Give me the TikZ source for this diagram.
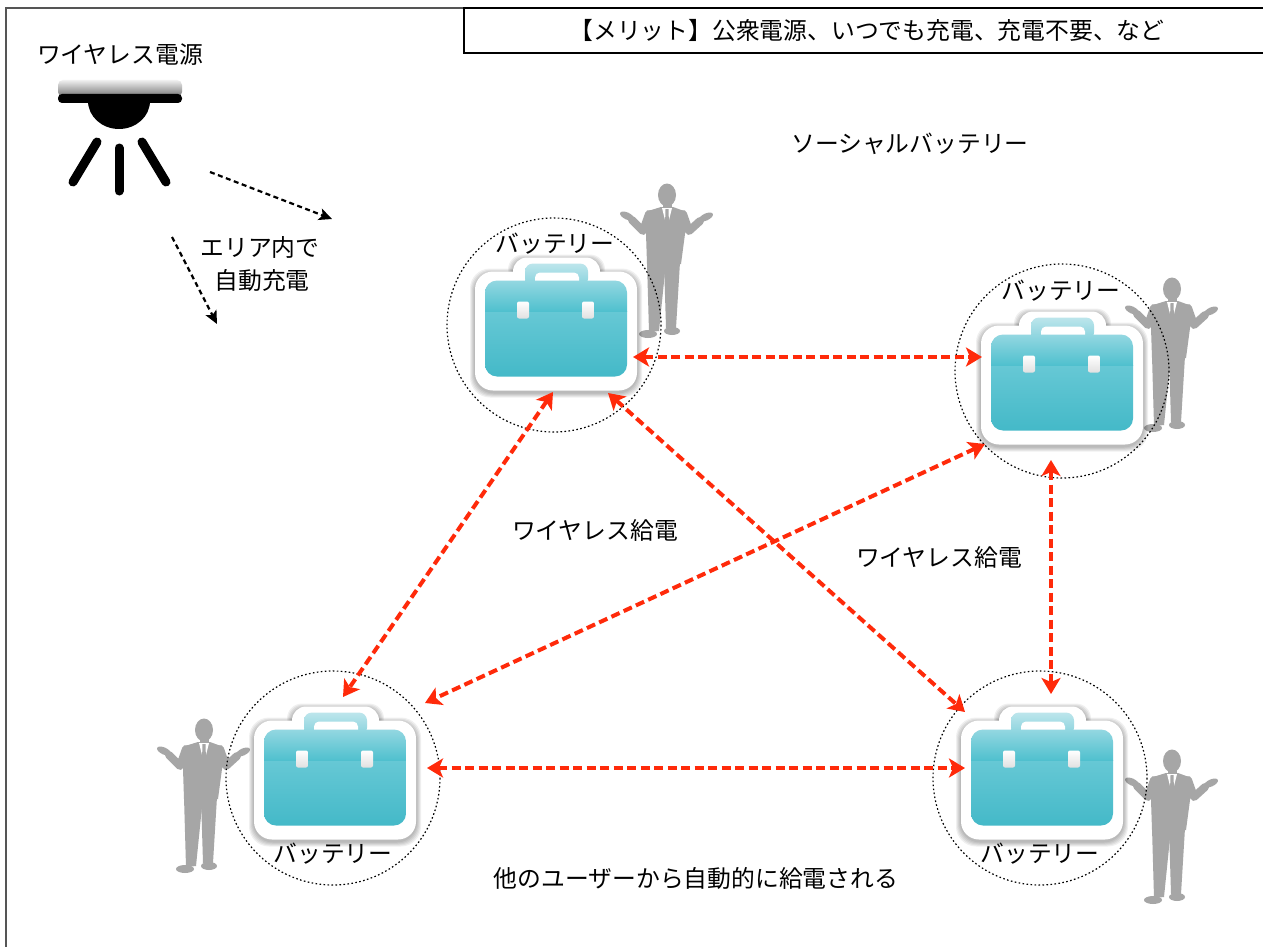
\documentclass[tikz,border=0pt]{standalone}
\usepackage{fontspec}
\setmainfont{Noto Sans CJK JP}
\usetikzlibrary{arrows.meta,calc}

\definecolor{framegray}{HTML}{555555}
\definecolor{mangray}{HTML}{A6A6A6}
\definecolor{linkred}{HTML}{FF2A0A}
\definecolor{lidtop}{HTML}{93D7E1}
\definecolor{lidbot}{HTML}{4FC0CE}
\definecolor{bodytop}{HTML}{66C8D5}
\definecolor{bodybot}{HTML}{44B9C8}
\definecolor{handlecol}{HTML}{86D1DC}

\tikzset{
  txt/.style={font=\fontsize{23.8}{30}\selectfont, inner sep=0pt, anchor=base},
  halo/.style={draw=black, line width=1.2pt, dash pattern=on 1.6pt off 2.4pt},
  link/.style={draw=linkred, line width=4pt, dash pattern=on 9pt off 4.5pt,
    {Stealth[length=16pt,width=19pt,inset=4pt]}-{Stealth[length=16pt,width=19pt,inset=4pt]}},
  beam/.style={draw=black, line width=2.2pt, dash pattern=on 5pt off 3.5pt,
    -{Stealth[length=13pt,width=12pt,inset=3pt]}},
  slot/.style={inner sep=0pt, minimum width=165pt, minimum height=135pt},
  % standing man in a suit, origin at the top of the head
  man/.pic={
    \fill[mangray] (0,11) ellipse [x radius=9, y radius=11.5];
    \fill[mangray] (-4.5,18) rectangle (4.5,27);
    \fill[mangray] (-6,23) -- (-19,27) .. controls (-22,30) and (-22,40) .. (-21,50)
      -- (-20,80) -- (-4,82) -- (14,80) -- (18,50)
      .. controls (19,40) and (20,30) .. (17,27) -- (6,23) -- cycle;
    \draw[mangray, line width=8pt, line join=round, line cap=round] (-18,30) -- (-24,47) -- (-35,36);
    \draw[mangray, line width=8pt, line join=round, line cap=round] (16,30) -- (22,47) -- (33,37);
    \fill[mangray, rotate around={-25:(-40,32)}] (-40,32) ellipse [x radius=7.5, y radius=3.5];
    \fill[mangray, rotate around={25:(39,33)}] (39,33) ellipse [x radius=7.5, y radius=3.5];
    \fill[mangray] (-20,78) -- (-1,78) -- (-8,147) -- (-18,148) -- cycle;
    \fill[mangray] (-3,78) -- (13,78) -- (9,144) -- (-1,144) -- cycle;
    \fill[mangray] (-19,150) ellipse [x radius=9, y radius=4];
    \fill[mangray] (5,147) ellipse [x radius=8, y radius=4];
    \fill[white] (-5,24) -- (5,24) -- (0,44) -- cycle;
    \fill[mangray] (-1.5,25) -- (1.5,25) -- (2.2,47) -- (0,51) -- (-2.2,47) -- cycle;
  },
  % teal tool case, origin at the centre of the case body
  toolbox/.pic={
    \foreach \e in {5,4,3,2,1} {
      \fill[black, opacity=0.06, rounded corners=20pt] (-81-\e,-57-\e+2) rectangle (81+\e,62+\e+2);
      \fill[black, opacity=0.06, rounded corners=15pt] (-43-\e,-71-\e+2) rectangle (44+\e,-40);
    }
    \fill[white, rounded corners=18pt] (-81,-57) rectangle (81,62);
    \fill[white, rounded corners=14pt] (-43,-71) rectangle (44,-40);
    \shade[top color=handlecol!55, bottom color=handlecol, rounded corners=8pt] (-31,-65) rectangle (32,-42);
    \fill[white, rounded corners=5pt] (-21,-56) rectangle (23,-42);
    \begin{scope}
      \clip[rounded corners=12pt] (-71,-48) rectangle (71,48);
      \shade[top color=bodytop, bottom color=bodybot] (-71,-17) rectangle (71,48);
      \shade[top color=lidtop, bottom color=lidbot] (-71,-48) rectangle (71,-17);
    \end{scope}
    \shade[top color=white, bottom color=black!12, rounded corners=2pt] (-39,-27) rectangle (-27,-10);
    \shade[top color=white, bottom color=black!12, rounded corners=2pt] (26,-27) rectangle (38,-10);
  },
}

\begin{document}
\begin{tikzpicture}[x=1pt,y=-1pt]
\useasboundingbox (0,0) rectangle (1263,947);
\fill[white] (0,0) rectangle (1263,947);

% outer frame
\draw[framegray, line width=1.5pt] (6,947) -- (6,8) -- (1263,8);

% headline box
\node[draw=black, line width=1.2pt, minimum width=806pt, minimum height=45pt, inner sep=0pt,
      font=\fontsize{23.8}{30}\selectfont] (merit) at (867,30.5)
  {【メリット】公衆電源、いつでも充電、充電不要、など};

% wireless power source lamp
\node[txt] (srclabel) at (120,64) {ワイヤレス電源};
\shade[top color=black!6, bottom color=black!55, rounded corners=5pt] (58,80) rectangle (182,97);
\fill[black, rounded corners=4pt] (58,94) rectangle (182,103);
\fill[black] (88,101) arc[start angle=180, end angle=0, x radius=31, y radius=28] -- cycle;
\draw[black, line width=9pt, line cap=round] (97,142) -- (73,182);
\draw[black, line width=9pt, line cap=round] (119,148) -- (119,191);
\draw[black, line width=9pt, line cap=round] (142,142) -- (166,182);

\coordinate (beamAs) at (210,172); \coordinate (beamAe) at (332,219);
\coordinate (beamBs) at (172,237); \coordinate (beamBe) at (217,324);
\draw[beam] (beamAs) -- (beamAe);
\draw[beam] (beamBs) -- (beamBe);
\node[txt] (area1) at (260,256) {エリア内で};
\node[txt] (area2) at (262,289) {自動充電};

\node[txt] (social) at (910,152) {ソーシャルバッテリー};

% people
\pic at (667,184) {man};
\pic at (1172,278) {man};
\pic at (204,719) {man};
\pic at (1172,750) {man};

% reach of each battery
\draw[halo] (554,325) circle [radius=107];
\draw[halo] (1062,371) circle [radius=107];
\draw[halo] (333,778) circle [radius=107];
\draw[halo] (1040,778) circle [radius=107];

% batteries
\node[slot] (tl) at (556,328.5) {};
\node[slot] (tr) at (1062,382.5) {};
\node[slot] (bl) at (335,777.5) {};
\node[slot] (br) at (1042,777.5) {};
\pic at (tl) {toolbox};
\pic at (tr) {toolbox};
\pic at (bl) {toolbox};
\pic at (br) {toolbox};

\node[txt] (tllabel) at (555,252) {バッテリー};
\node[txt] (trlabel) at (1061,299) {バッテリー};
\node[txt] (bllabel) at (333,862) {バッテリー};
\node[txt] (brlabel) at (1040,862) {バッテリー};

% wireless links between batteries
\coordinate (tlE) at (633,357);   \coordinate (trW) at (982,357);
\coordinate (tlS) at (553,392);   \coordinate (blN) at (343,697);
\coordinate (tlSE) at (608,393);  \coordinate (brNW) at (965,712);
\coordinate (trSW) at (985,444);  \coordinate (blNE) at (425,703);
\coordinate (trS) at (1051,460);  \coordinate (brN) at (1051,694);
\coordinate (blE) at (427,768);   \coordinate (brW) at (965,768);
\draw[link] (tlE) -- (trW);
\draw[link] (tlS) -- (blN);
\draw[link] (tlSE) -- (brNW);
\draw[link] (trSW) -- (blNE);
\draw[link] (trS) -- (brN);
\draw[link] (blE) -- (brW);

\node[txt] (feedA) at (595,539) {ワイヤレス給電};
\node[txt] (feedB) at (939,566) {ワイヤレス給電};
\node[txt] (auto) at (696,887) {他のユーザーから自動的に給電される};
\end{tikzpicture}
\end{document}
